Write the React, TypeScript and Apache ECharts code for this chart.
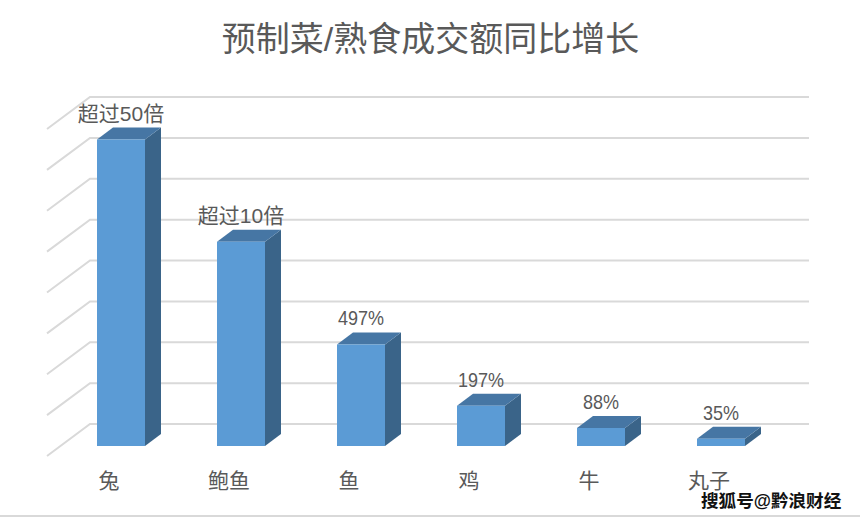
import React, { useEffect, useRef } from "react";
import * as echarts from "echarts";

const titleText = "预制菜/熟食成交额同比增长";
const watermark = "搜狐号@黔浪财经";
const categories = ["兔", "鲍鱼", "鱼", "鸡", "牛", "丸子"];
const growthValues = [1500, 1000, 497, 197, 88, 35];
const barLabels = ["超过50倍", "超过10倍", "497%", "197%", "88%", "35%"];
const gridTicks = [0, 200, 400, 600, 800, 1000, 1200, 1400, 1600];

const CJK = '"Liberation Sans", "Noto Sans CJK SC", sans-serif';

export default function App() {
  const ref = useRef<HTMLDivElement>(null);
  useEffect(() => {
    const chart = echarts.init(ref.current!, undefined, { renderer: "svg" });
    const option: any = {
      animation: false,
      backgroundColor: "#ffffff",
      title: {
        text: titleText,
        left: 425.5,
        top: 17,
        textAlign: "center",
        textStyle: { fontFamily: CJK, fontSize: 34, fontWeight: "normal", color: "#595959" },
      },
      grid: { left: 49, right: 91, top: 97, bottom: 95 },
      xAxis: {
        type: "category",
        data: categories,
        axisLine: { show: false },
        axisTick: { show: false },
        splitLine: { show: false },
        axisLabel: { margin: 46, fontFamily: CJK, fontSize: 21, color: "#595959" },
      },
      yAxis: { type: "value", min: 0, max: 1600, interval: 200, show: false },
      graphic: [
        {
          type: "text",
          x: 701,
          y: 492,
          z: 20,
          style: {
            text: watermark,
            fontFamily: CJK,
            fontSize: 17.6,
            fontWeight: "bold",
            fill: "#111111",
            stroke: "#ffffff",
            lineWidth: 2,
          },
        },
        { type: "rect", shape: { x: 0, y: 515, width: 860, height: 2 }, style: { fill: "#d9d9d9" } },
      ],
      series: [
        {
          type: "custom",
          silent: true,
          z: 1,
          data: gridTicks.map((t) => [0, t]),
          encode: { x: 0, y: 1 },
          renderItem: (_p: any, api: any) => {
            const y = api.coord([0, api.value(1)])[1];
            return {
              type: "polyline",
              shape: { points: [[47, y + 32], [90, y], [809, y]] },
              style: { fill: "none", stroke: "#d9d9d9", lineWidth: 2 },
            };
          },
        },
        {
          type: "custom",
          silent: true,
          z: 2,
          data: growthValues.map((v, i) => [i, v]),
          encode: { x: 0, y: 1 },
          renderItem: (p: any, api: any) => {
            const [cx, ty] = api.coord([api.value(0), api.value(1)]);
            const by = api.coord([api.value(0), 0])[1];
            const x0 = cx - 12;
            const x1 = cx + 36;
            const top = ty + 22;
            const bot = by + 22;
            const dx = 16;
            const dy = 12;
            const label = barLabels[p.dataIndex];
            const isPct = label.endsWith("%");
            return {
              type: "group",
              children: [
                {
                  type: "polygon",
                  shape: { points: [[x1, top], [x1 + dx, top - dy], [x1 + dx, bot - dy], [x1, bot]] },
                  style: { fill: "#3a6489" },
                },
                {
                  type: "polygon",
                  shape: { points: [[x0, top], [x0 + dx, top - dy], [x1 + dx, top - dy], [x1, top]] },
                  style: { fill: "#4676a4" },
                },
                {
                  type: "rect",
                  shape: { x: x0, y: top, width: x1 - x0, height: bot - top },
                  style: { fill: "#5b9bd5" },
                },
                {
                  type: "text",
                  x: cx + 12,
                  y: top - 26,
                  scaleX: isPct ? 0.9 : 1,
                  style: {
                    text: label,
                    fontFamily: CJK,
                    fontSize: isPct ? 20 : 21,
                    fill: "#595959",
                    align: "center",
                    verticalAlign: "middle",
                  },
                },
              ],
            };
          },
        },
      ],
    };
    chart.setOption(option);
    return () => chart.dispose();
  }, []);
  return <div ref={ref} style={{ position: "absolute", left: 0, top: 0, width: 860, height: 519 }} />;
}
